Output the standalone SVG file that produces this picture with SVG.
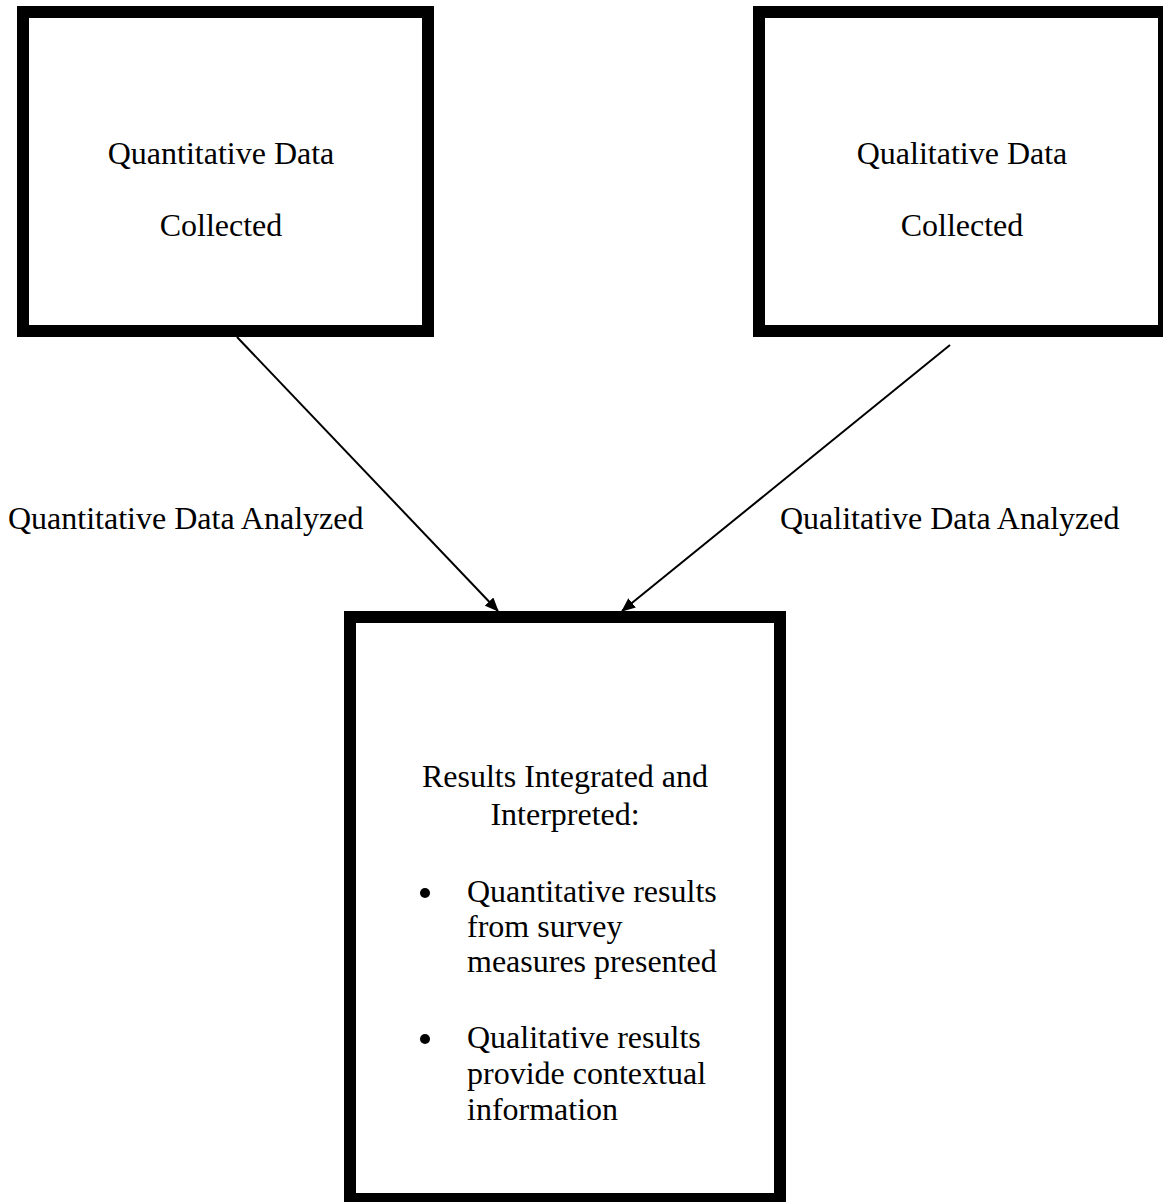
<svg xmlns="http://www.w3.org/2000/svg" width="1163" height="1202" viewBox="0 0 1163 1202">
<style>
.box{fill:#fff;stroke:#000;stroke-width:12}
.t{font-family:"Liberation Serif","Times New Roman",serif;font-size:32px;fill:#000}
.c{text-anchor:middle}
.conn{stroke:#000;stroke-width:2;fill:none}
</style>
<defs>
<marker id="ah" markerWidth="14" markerHeight="12" refX="13" refY="6" orient="auto" markerUnits="userSpaceOnUse">
<path d="M0,0 L14,6 L0,12 Z" fill="#000"/>
</marker>
</defs>
<rect width="1163" height="1202" fill="#fff"/>
<g id="connectors">
<line class="conn" x1="237" y1="337" x2="498" y2="611" marker-end="url(#ah)"/>
<line class="conn" x1="950" y1="345" x2="622" y2="611" marker-end="url(#ah)"/>
<text class="t" x="8" y="529">Quantitative Data Analyzed</text>
<text class="t" x="780" y="529">Qualitative Data Analyzed</text>
</g>
<g id="quant">
<rect class="box" x="23" y="12" width="405" height="319"/>
<text class="t c" x="221" y="164">Quantitative Data</text>
<text class="t c" x="221" y="236">Collected</text>
</g>
<g id="qual">
<rect class="box" x="759" y="12" width="405" height="319"/>
<text class="t c" x="962" y="164">Qualitative Data</text>
<text class="t c" x="962" y="236">Collected</text>
</g>
<g id="results">
<rect class="box" x="350" y="617" width="430" height="582"/>
<text class="t c" x="565" y="787">Results Integrated and</text>
<text class="t c" x="565" y="825">Interpreted:</text>
<circle cx="425" cy="893" r="5"/>
<text class="t" x="467" y="902">Quantitative results</text>
<text class="t" x="467" y="937">from survey</text>
<text class="t" x="467" y="972">measures presented</text>
<circle cx="425" cy="1039" r="5"/>
<text class="t" x="467" y="1048">Qualitative results</text>
<text class="t" x="467" y="1084">provide contextual</text>
<text class="t" x="467" y="1120">information</text>
</g>
</svg>
